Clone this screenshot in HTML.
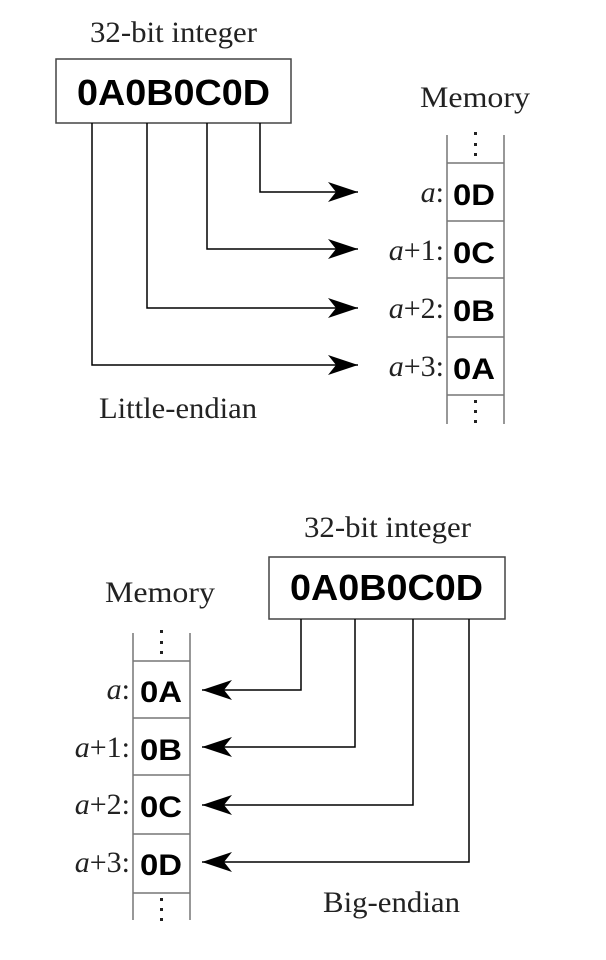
<!DOCTYPE html>
<html><head><style>
html,body{margin:0;padding:0;background:#fff;}
svg{display:block;}
.s{font-family:"Liberation Serif",serif;font-size:30px;fill:#222;}
.v{font-family:"Liberation Sans",sans-serif;font-weight:bold;font-size:30px;fill:#000;}
.b{font-family:"Liberation Sans",sans-serif;font-weight:bold;font-size:36px;fill:#000;}
.i{font-style:italic;}
</style></head><body>
<svg width="606" height="960" viewBox="0 0 606 960" xmlns="http://www.w3.org/2000/svg">
<defs>
<marker id="ar" viewBox="0 0 30 20" refX="30" refY="10" markerWidth="30" markerHeight="20" markerUnits="userSpaceOnUse" orient="auto">
<path d="M0,0 L30,10 L0,20 L8,10 Z" fill="#000"/>
</marker>
</defs>
<!-- TOP: little-endian -->
<text class="s" x="90" y="42" textLength="167" lengthAdjust="spacingAndGlyphs">32-bit integer</text>
<rect x="56" y="59" width="235" height="64" fill="#fff" stroke="#444" stroke-width="1.5"/>
<text class="b" x="77" y="105" textLength="193" lengthAdjust="spacingAndGlyphs">0A0B0C0D</text>
<text class="s" x="420" y="107" textLength="110" lengthAdjust="spacingAndGlyphs">Memory</text>
<g stroke="#000" stroke-width="1.5" fill="none">
<polyline points="260,123 260,192 358,192" marker-end="url(#ar)"/>
<polyline points="207,123 207,249 358,249" marker-end="url(#ar)"/>
<polyline points="147,123 147,308 358,308" marker-end="url(#ar)"/>
<polyline points="92,123 92,365 358,365" marker-end="url(#ar)"/>
</g>
<g stroke="#777" stroke-width="1.5">
<line x1="447" y1="135" x2="447" y2="424"/>
<line x1="504" y1="135" x2="504" y2="424"/>
<line x1="447" y1="163" x2="504" y2="163"/>
<line x1="447" y1="221" x2="504" y2="221"/>
<line x1="447" y1="278" x2="504" y2="278"/>
<line x1="447" y1="337" x2="504" y2="337"/>
<line x1="447" y1="395" x2="504" y2="395"/>
</g>
<g fill="#222">
<rect x="474" y="132" width="3" height="3"/><rect x="474" y="143" width="3" height="3"/><rect x="474" y="153" width="3" height="3"/>
<rect x="474" y="400" width="3" height="3"/><rect x="474" y="410" width="3" height="3"/><rect x="474" y="420" width="3" height="3"/>
</g>
<text class="v" x="453" y="205" textLength="42" lengthAdjust="spacingAndGlyphs">0D</text>
<text class="v" x="453" y="263" textLength="42" lengthAdjust="spacingAndGlyphs">0C</text>
<text class="v" x="453" y="321" textLength="42" lengthAdjust="spacingAndGlyphs">0B</text>
<text class="v" x="453" y="379" textLength="42" lengthAdjust="spacingAndGlyphs">0A</text>
<text class="s" x="444" y="202" text-anchor="end"><tspan class="i">a</tspan>:</text>
<text class="s" x="444" y="260" text-anchor="end"><tspan class="i">a</tspan>+1:</text>
<text class="s" x="444" y="318" text-anchor="end"><tspan class="i">a</tspan>+2:</text>
<text class="s" x="444" y="376" text-anchor="end"><tspan class="i">a</tspan>+3:</text>
<text class="s" x="99" y="418" textLength="158" lengthAdjust="spacingAndGlyphs">Little-endian</text>

<!-- BOTTOM: big-endian -->
<text class="s" x="304" y="537" textLength="167" lengthAdjust="spacingAndGlyphs">32-bit integer</text>
<rect x="269" y="557" width="236" height="62" fill="#fff" stroke="#444" stroke-width="1.5"/>
<text class="b" x="290" y="600" textLength="193" lengthAdjust="spacingAndGlyphs">0A0B0C0D</text>
<text class="s" x="105" y="602" textLength="110" lengthAdjust="spacingAndGlyphs">Memory</text>
<g stroke="#000" stroke-width="1.5" fill="none">
<polyline points="301,619 301,690 202,690" marker-end="url(#ar)"/>
<polyline points="355,619 355,747 202,747" marker-end="url(#ar)"/>
<polyline points="413,619 413,805 202,805" marker-end="url(#ar)"/>
<polyline points="469,619 469,862 202,862" marker-end="url(#ar)"/>
</g>
<g stroke="#777" stroke-width="1.5">
<line x1="133" y1="633" x2="133" y2="920"/>
<line x1="190" y1="633" x2="190" y2="920"/>
<line x1="133" y1="661" x2="190" y2="661"/>
<line x1="133" y1="718" x2="190" y2="718"/>
<line x1="133" y1="775" x2="190" y2="775"/>
<line x1="133" y1="834" x2="190" y2="834"/>
<line x1="133" y1="893" x2="190" y2="893"/>
</g>
<g fill="#222">
<rect x="160" y="630" width="3" height="3"/><rect x="160" y="641" width="3" height="3"/><rect x="160" y="651" width="3" height="3"/>
<rect x="160" y="898" width="3" height="3"/><rect x="160" y="908" width="3" height="3"/><rect x="160" y="918" width="3" height="3"/>
</g>
<text class="v" x="140" y="702" textLength="42" lengthAdjust="spacingAndGlyphs">0A</text>
<text class="v" x="140" y="760" textLength="42" lengthAdjust="spacingAndGlyphs">0B</text>
<text class="v" x="140" y="817" textLength="42" lengthAdjust="spacingAndGlyphs">0C</text>
<text class="v" x="140" y="875" textLength="42" lengthAdjust="spacingAndGlyphs">0D</text>
<text class="s" x="130" y="699" text-anchor="end"><tspan class="i">a</tspan>:</text>
<text class="s" x="130" y="757" text-anchor="end"><tspan class="i">a</tspan>+1:</text>
<text class="s" x="130" y="814" text-anchor="end"><tspan class="i">a</tspan>+2:</text>
<text class="s" x="130" y="872" text-anchor="end"><tspan class="i">a</tspan>+3:</text>
<text class="s" x="323" y="912" textLength="137" lengthAdjust="spacingAndGlyphs">Big-endian</text>
</svg>
</body></html>
